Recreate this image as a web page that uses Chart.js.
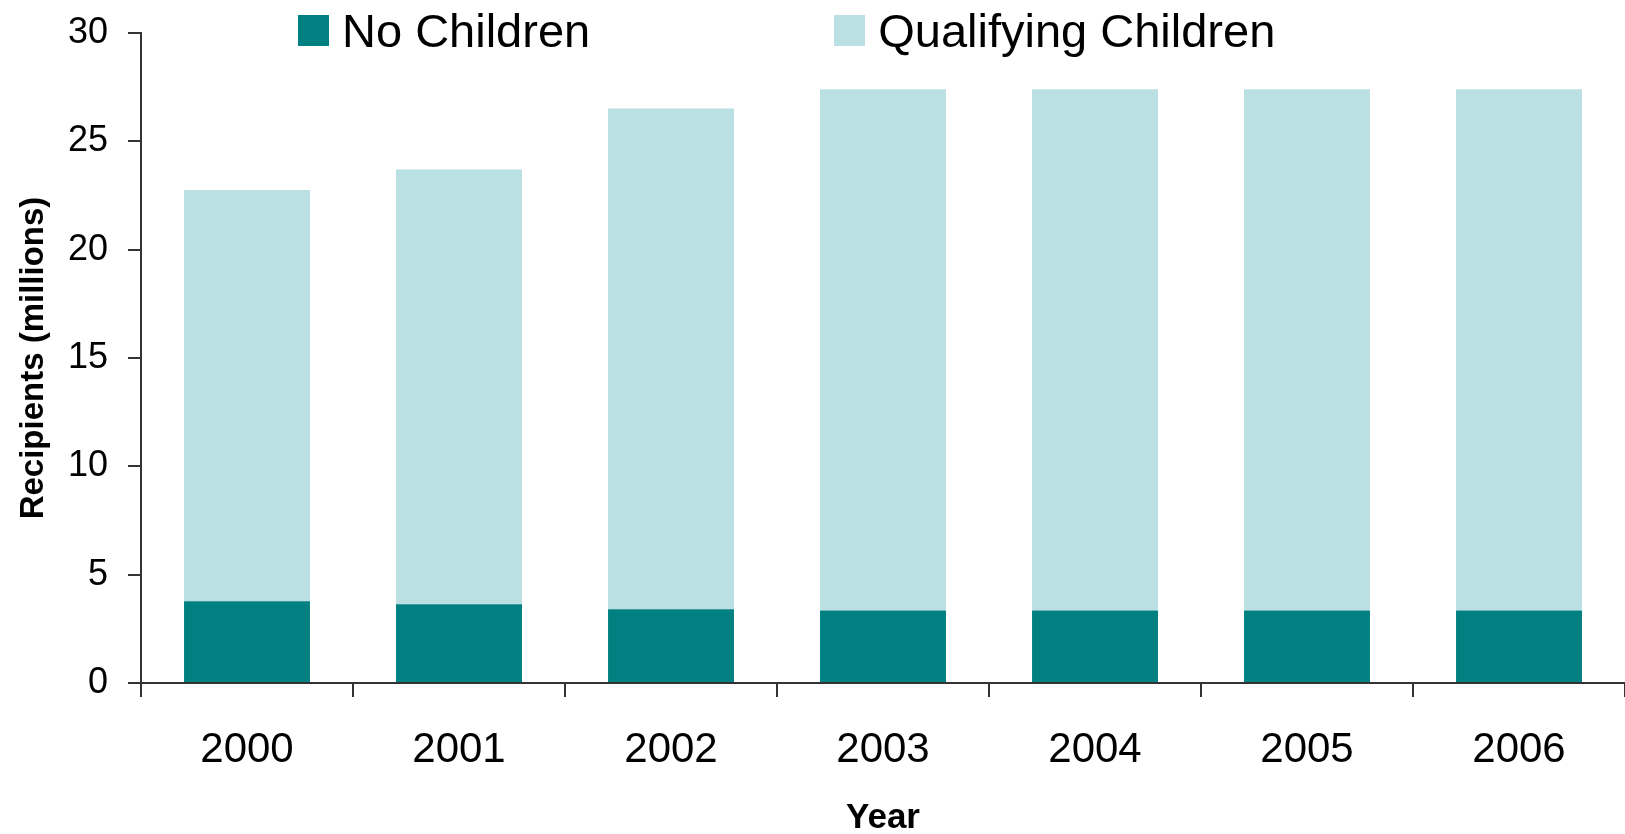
<!DOCTYPE html>
<html>
<head>
<meta charset="utf-8">
<title>Recipients by Year</title>
<script src="https://cdn.jsdelivr.net/npm/chart.js@4.4.1/dist/chart.umd.min.js"></script>
<style>
  html, body { margin: 0; padding: 0; background: #fff; }
  #wrap { position: relative; width: 1625px; height: 834px; }
  #legend {
    position: absolute; left: 298px; top: 3px;
    display: flex; align-items: center;
    font-family: "Liberation Sans", Arial, sans-serif; font-size: 47px; color: #000;
  }
  .lg-item { display: inline-flex; align-items: center; margin-right: 244px; }
  .lg-box { width: 31px; height: 31px; margin-right: 13px; flex-shrink: 0; }
</style>
</head>
<body>
<div id="wrap">
  <canvas id="chart"></canvas>
  <div id="legend"></div>
</div>
<script>
// ── Data ────────────────────────────────────────────────────────
const YEARS        = ["2000", "2001", "2002", "2003", "2004", "2005", "2006"];
const NO_CHILDREN  = [3.77, 3.63, 3.40, 3.35, 3.35, 3.35, 3.35];
const QUALIFYING   = [18.98, 20.07, 23.12, 24.05, 24.05, 24.05, 24.05];
const Y_TICKS      = [0, 5, 10, 15, 20, 25, 30];

const TEAL  = "#008080";
const LIGHT = "#BAE0E3";
const AXIS  = "#333333";
const FONT  = "'Liberation Sans', Arial, sans-serif";

const datasets = [
  { label: "No Children",         data: NO_CHILDREN, backgroundColor: TEAL },
  { label: "Qualifying Children", data: QUALIFYING,  backgroundColor: LIGHT },
];

const ctx = document.getElementById("chart").getContext("2d");

const chart = new Chart(ctx, {
  type: "bar",
  data: {
    labels: YEARS,
    datasets: datasets.map(d => ({
      ...d,
      borderWidth: 0,
      barPercentage: 0.594,
      categoryPercentage: 1.0,
    })),
  },
  options: {
    responsive: true,
    maintainAspectRatio: false,
    animation: false,
    layout: { padding: { top: 33, right: 0, left: 0, bottom: 0 } },
    plugins: {
      legend: { display: false },
      tooltip: { enabled: false },
    },
    scales: {
      x: {
        stacked: true,
        offset: true,
        border: { display: true, color: AXIS, width: 2 },
        grid: {
          offset: true,
          drawOnChartArea: false,
          drawTicks: true,
          tickLength: 14,
          color: AXIS,
          lineWidth: 2,
        },
        ticks: {
          color: "#000",
          padding: 28,
          font: { family: FONT, size: 42 },
          maxRotation: 0,
        },
        title: {
          display: true,
          text: "Year",
          color: "#000",
          font: { family: FONT, size: 35, weight: "bold", lineHeight: 1 },
          padding: { top: 0, bottom: -2 },
        },
        afterFit: s => { s.height = 151; s.paddingLeft = 0; s.paddingRight = 0; },
      },
      y: {
        stacked: true,
        min: 0,
        max: 30,
        border: { display: true, color: AXIS, width: 2 },
        grid: {
          drawOnChartArea: false,
          drawTicks: true,
          tickLength: 13,
          color: AXIS,
          lineWidth: 2,
        },
        afterBuildTicks: s => { s.ticks = Y_TICKS.map(v => ({ value: v })); },
        ticks: {
          color: "#000",
          padding: 20,
          font: { family: FONT, size: 36 },
        },
        title: {
          display: true,
          text: "Recipients (millions)",
          color: "#000",
          font: { family: FONT, size: 33, weight: "bold", lineHeight: 1.2 },
          padding: { top: 14, bottom: 0 },
        },
        afterFit: s => { s.width = 141; s.paddingTop = 0; s.paddingBottom = 0; },
      },
    },
  },
});

// ── HTML legend built from the datasets ─────────────────────────
function renderLegend() {
  const el = document.getElementById("legend");
  el.innerHTML = chart.data.datasets.map(d => `
    <span class="lg-item">
      <span class="lg-box" style="background:${d.backgroundColor}"></span>${d.label}
    </span>`).join("");
}
renderLegend();
</script>
</body>
</html>
